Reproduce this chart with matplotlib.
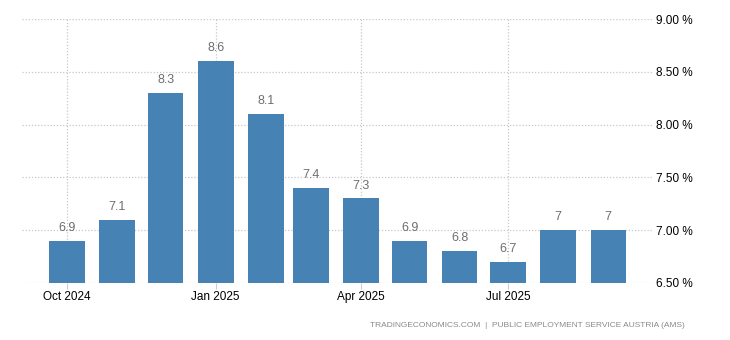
import matplotlib
matplotlib.use("Agg")
import matplotlib.pyplot as plt
import matplotlib.dates as mdates
import numpy as np
import datetime as dt

# monthly unemployment rate, Austria (AMS)
months = ["2024-10-01", "2024-11-01", "2024-12-01", "2025-01-01", "2025-02-01", "2025-03-01",
          "2025-04-01", "2025-05-01", "2025-06-01", "2025-07-01", "2025-08-01", "2025-09-01"]
values = [6.9, 7.1, 8.3, 8.6, 8.1, 7.4, 7.3, 6.9, 6.8, 6.7, 7.0, 7.0]
labels = ["6.9", "7.1", "8.3", "8.6", "8.1", "7.4", "7.3", "6.9", "6.8", "6.7", "7", "7"]
xticks = ["2024-10-01", "2025-01-01", "2025-04-01", "2025-07-01"]
yticks = [6.5, 7.0, 7.5, 8.0, 8.5, 9.0]

dates = [dt.datetime.strptime(m, "%Y-%m-%d") for m in months]

plt.rcParams['font.family'] = ['Liberation Sans', 'DejaVu Sans']
fig = plt.figure(figsize=(7.3, 3.4), dpi=100)
ax = fig.add_axes([0.030, 0.168, 0.863, 0.776])

ax.bar(dates, [v - 6.5 for v in values], bottom=6.5, width=22,
       color="#4682b4", zorder=3)

for d, v, lab in zip(dates, values, labels):
    ax.annotate(lab, (d, v), xytext=(0, 5), textcoords="offset points",
                ha="center", va="bottom", fontsize=9, color="#6e6e72", zorder=4)

ax.set_xlim(dt.datetime(2024, 9, 3), dt.datetime(2025, 9, 28))
ax.set_ylim(6.5, 9.0)

ax.set_xticks([dt.datetime.strptime(t, "%Y-%m-%d") for t in xticks])
ax.xaxis.set_major_formatter(mdates.DateFormatter("%b %Y"))
ax.set_yticks(yticks)
ax.set_yticklabels([f"{y:.2f} %" for y in yticks])
ax.yaxis.tick_right()

ax.tick_params(axis="x", length=4, color="#cccccc", labelsize=8.5, pad=2)
ax.tick_params(axis="y", length=0, labelsize=8.5, pad=3)

ax.grid(True, linestyle=(0, (1, 1.5)), color="#c8c8c8", linewidth=0.9, zorder=0)
for s in ax.spines.values():
    s.set_visible(False)

fig.text(0.938, 0.043, "TRADINGECONOMICS.COM  |  PUBLIC EMPLOYMENT SERVICE AUSTRIA (AMS)",
         ha="right", va="center", fontsize=6, color="#8a8a8a")

fig.savefig("out.png", dpi=100)
